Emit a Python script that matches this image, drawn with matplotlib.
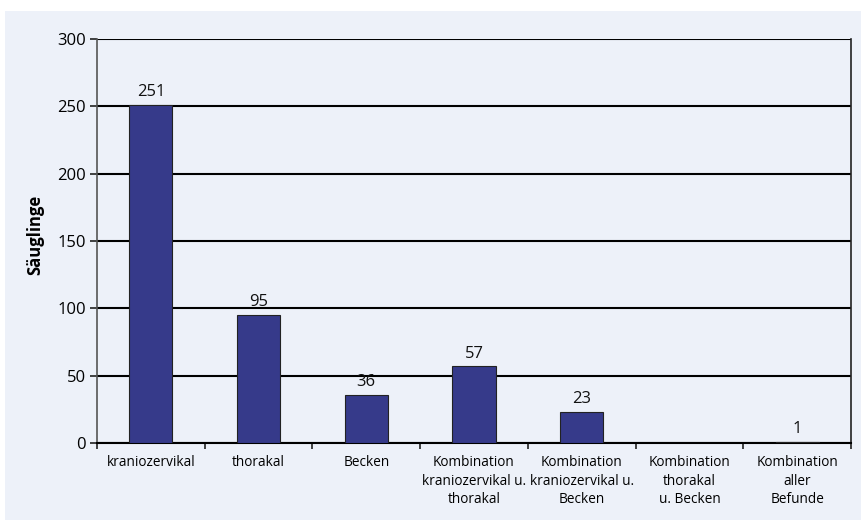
import matplotlib.pyplot as plt
from matplotlib.patches import Rectangle

plt.rcParams['font.family'] = ['Open Sans', 'DejaVu Sans']

categories = ['kraniozervikal', 'thorakal', 'Becken',
              'Kombination\nkraniozervikal u.\nthorakal',
              'Kombination\nkraniozervikal u.\nBecken',
              'Kombination\nthorakal\nu. Becken',
              'Kombination\naller\nBefunde']
values = [251, 95, 36, 57, 23, 0, 1]
yticks = [0, 50, 100, 150, 200, 250, 300]

fig = plt.figure(figsize=(8.62, 5.21), dpi=100)
# light panel behind the chart
fig.add_artist(Rectangle((5 / 862, 1 / 521), 1, 1 - 12 / 521,
                         transform=fig.transFigure, facecolor='#edf1f9',
                         edgecolor='none', zorder=-10))
ax = fig.add_axes([97 / 862, 1 - 443 / 521, (851 - 97) / 862, (443 - 39) / 521])
ax.set_facecolor('none')

x = range(len(categories))
ax.bar(x, values, width=0.4, color='#363a8a', edgecolor='#222222',
       linewidth=0.8, zorder=3)
for xi, v in zip(x, values):
    if v > 0:
        ax.text(xi, v + 3.5, str(v), ha='center', va='bottom', fontsize=12,
                color='#111111', zorder=4)

ax.set_xlim(-0.5, len(categories) - 0.5)
ax.set_ylim(0, 300)
ax.set_yticks(yticks)
ax.yaxis.grid(True, color='black', linewidth=1.5, zorder=1)
ax.set_axisbelow(True)

ax.set_xticks(list(x))
ax.set_xticklabels(categories, fontsize=9.8, linespacing=1.3)
ax.set_xticks([i + 0.5 for i in range(-1, len(categories))], minor=True)
ax.tick_params(axis='x', which='major', length=0, pad=9)
ax.tick_params(axis='x', which='minor', length=4, width=1.2, color='#222222')
ax.tick_params(axis='y', length=5, width=1.2, color='#222222', labelsize=12,
               pad=3)

ax.spines['top'].set_visible(False)
ax.spines['left'].set_color('#555555')
ax.spines['left'].set_linewidth(1.2)
ax.spines['right'].set_color('#222222')
ax.spines['right'].set_linewidth(1.2)
ax.spines['bottom'].set_color('black')
ax.spines['bottom'].set_linewidth(1.5)

ax.set_ylabel('Säuglinge', fontsize=12, fontweight='bold')
ax.yaxis.set_label_coords(-0.07, 0.516)

fig.savefig('out.png', dpi=100)
